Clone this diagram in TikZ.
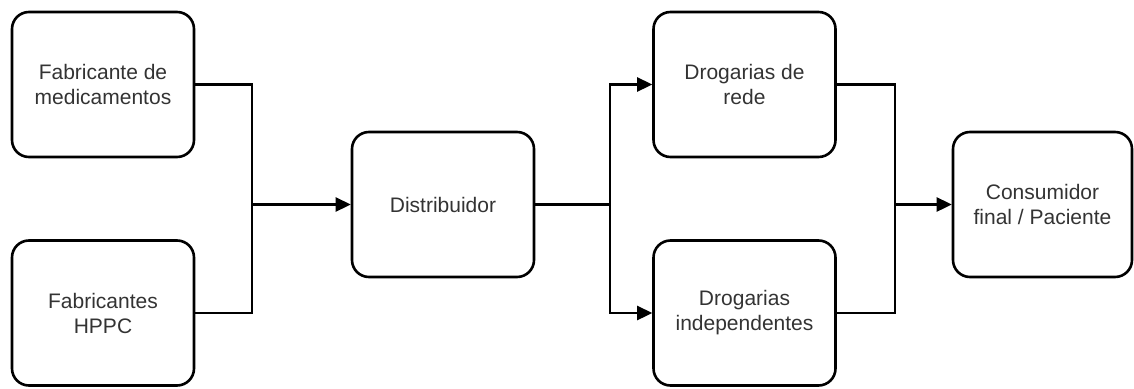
\documentclass[tikz,border=0pt]{standalone}
\usepackage{fontspec}
\setmainfont{Liberation Sans}
\usetikzlibrary{arrows.meta}
\begin{document}
\begin{tikzpicture}[x=1pt,y=-1pt,
  box/.style={draw=black, line width=2.6pt, rounded corners=17pt, minimum width=182pt, minimum height=145pt, align=center, inner sep=2pt, text=black!80, font=\fontsize{21}{25}\selectfont},
  link/.style={line width=2.6pt},
  arr/.style={link, -{Triangle[length=15pt,width=14pt]}}]
\useasboundingbox (0,0) rectangle (1134,388);
\node[box] (fab) at (103,84.5) {Fabricante de\\medicamentos};
\node[box] (hppc) at (103,313) {Fabricantes\\HPPC};
\node[box] (dist) at (443,204.5) {Distribuidor};
\node[box] (rede) at (744.5,84.5) {Drogarias de\\rede};
\node[box] (ind) at (744.5,313) {Drogarias\\independentes};
\node[box, minimum width=179pt] (cons) at (1042.5,204.5) {Consumidor\\final / Paciente};
\coordinate (j1) at (252,204.5);
\coordinate (j2) at (610,204.5);
\coordinate (j3) at (895,204.5);
\draw[link] (fab.east) -| (j1) |- (hppc.east);
\draw[arr] (j1) -- (dist.west);
\draw[link] (dist.east) -- (j2);
\draw[arr] (j2) |- (rede.west);
\draw[arr] (j2) |- (ind.west);
\draw[link] (rede.east) -| (j3) |- (ind.east);
\draw[arr] (j3) -- (cons.west);
\end{tikzpicture}
\end{document}
